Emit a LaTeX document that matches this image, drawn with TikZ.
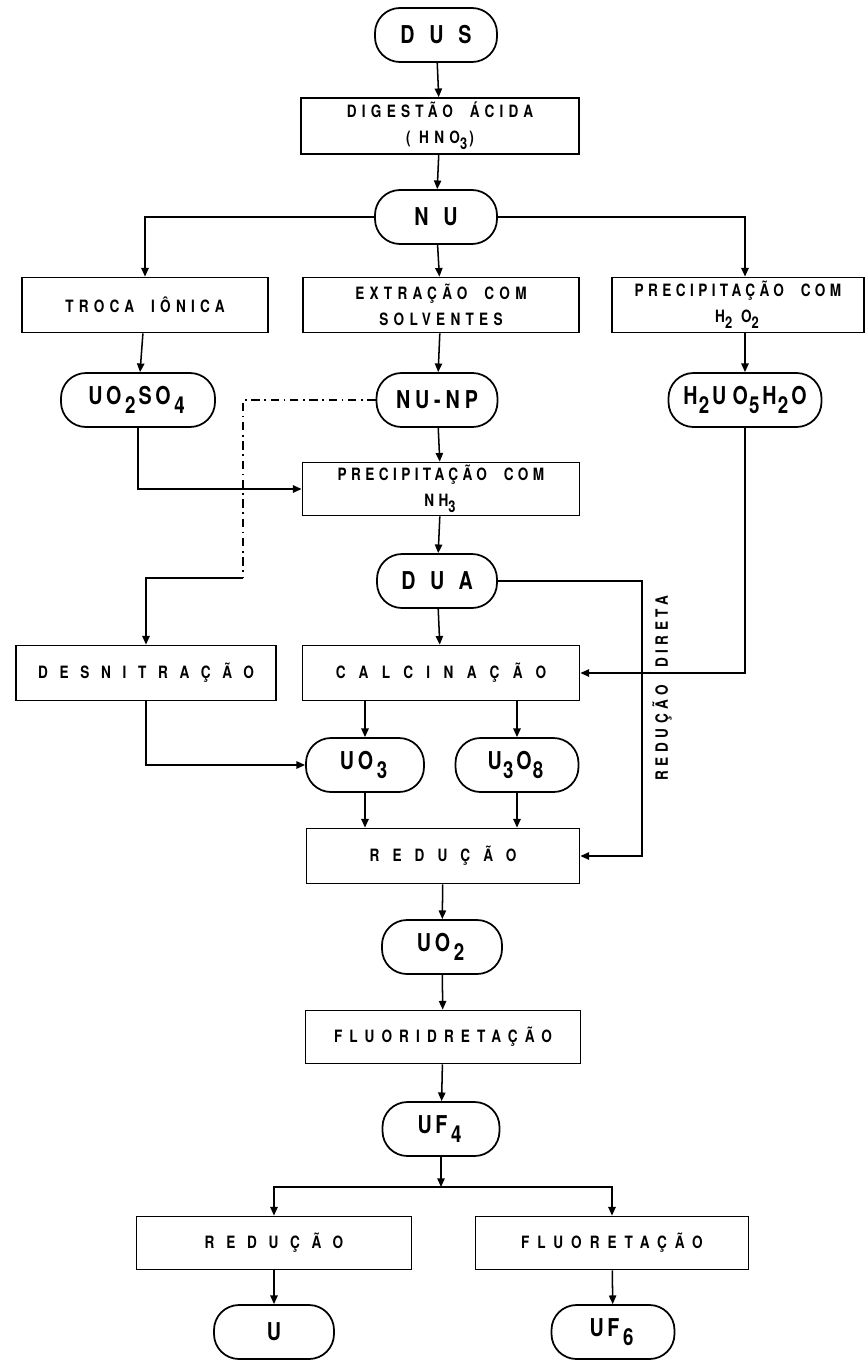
\documentclass[tikz,border=0pt]{standalone}
\usepackage{fontspec}
\setmainfont{TeX Gyre Heros}
\newfontfamily\flowfamily{TeX Gyre Heros}[FakeStretch=0.8]
\usepackage{tikz}
\usetikzlibrary{arrows.meta}
\newcommand{\boxfont}{\flowfamily\bfseries\fontsize{14.5}{22}\selectfont}
\newcommand{\termfont}{\flowfamily\bfseries\fontsize{21}{24}\selectfont}
\newcommand{\trk}[1]{\addfontfeature{LetterSpace=#1}}
\newcommand{\lo}[2][0.15em]{\kern#1\raisebox{-0.35em}{\scalebox{0.95}{#2}}\kern0.12em}
\newcommand{\gap}{\hspace{1em}}
\tikzset{
  proc/.style   ={draw, rectangle, minimum width=#1, minimum height=16.5mm,
                  inner sep=1pt, align=center, line width=1.5pt,
                  font=\boxfont\trk{31}},
  term/.style   ={draw, rectangle, rounded corners=7.5mm, minimum width=#1,
                  minimum height=16.2mm, inner sep=0pt, line width=1.5pt,
                  font=\termfont\trk{15}},
  flow/.style   ={-{Triangle[length=2.6mm,width=2.2mm]}, line width=1.3pt},
  altflow/.style={line width=1.3pt, dash pattern=on 7pt off 4pt on 1.5pt off 4pt},
  sidelbl/.style={font=\boxfont\trk{27}, rotate=90, inner sep=1pt},
}

\begin{document}
\begin{tikzpicture}[x=0.3mm, y=-0.3mm]
  \useasboundingbox (0,0) rectangle (867,1360);

  % main column
  \node[term=36.6mm, font=\termfont\trk{60}] (dus) at (436,35) {DUS};
  \node[proc=83.4mm, minimum height=16.8mm] (dig) at (440,126)
    {DIGESTÃO\gap ÁCIDA\\(\hspace{0.5em}HNO\lo[0pt]{3})};
  \node[term=36.6mm, font=\termfont\trk{60}] (nu) at (436,217) {NU};

  % three routes
  \node[proc=73.8mm] (troca) at (145,305) {TROCA\gap IÔNICA};
  \node[proc=82.8mm] (extr) at (441,305) {EXTRAÇÃO\gap COM\\SOLVENTES};
  \node[proc=75.6mm, font=\boxfont\trk{26}] (pph) at (738,305)
    {PRECIPITAÇÃO\gap COM\\H\lo[0pt]{2}\hspace{0.4em}O\lo[0pt]{2}};
  \node[term=46.2mm] (uso) at (138,400) {UO\lo{2}SO\lo{4}};
  \node[term=36.3mm, font=\termfont\trk{20}] (nunp) at (437,400) {NU-NP};
  \node[term=45.9mm, font=\termfont\trk{25}] (hper) at (745,400)
    {H\lo[0.05em]{2}UO\lo[0.05em]{5}H\lo[0.05em]{2}O};
  \node[proc=83.1mm, minimum height=15.9mm, font=\boxfont\trk{26}] (ppn) at (441,489)
    {PRECIPITAÇÃO\gap COM\\NH\lo[0pt]{3}};
  \node[term=36mm, font=\termfont\trk{60}] (dua) at (437,581) {DUA};

  % oxides
  \node[proc=78mm, font=\boxfont\trk{69}] (desn) at (146,673) {DESNITRAÇÃO};
  \node[proc=83.1mm, font=\boxfont\trk{79}] (calc) at (441,673) {CALCINAÇÃO};
  \node[term=35.4mm] (uo3) at (365,765) {UO\lo{3}};
  \node[term=36.9mm] (u3o8) at (517,765) {U\lo[0.05em]{3}O\lo[0.05em]{8}};
  \node[proc=81.9mm, font=\boxfont\trk{77}] (red) at (443,856) {REDUÇÃO};
  \node[term=36mm] (uo2) at (442,947) {UO\lo{2}};
  \node[proc=82.5mm, minimum height=15.9mm, font=\boxfont\trk{42}] (fhf) at (443,1037)
    {FLUORIDRETAÇÃO};
  \node[term=35.1mm] (uf4) at (441,1129) {UF\lo{4}};

  % end products
  \node[proc=82.5mm, minimum height=15.9mm, font=\boxfont\trk{69}] (redm) at (274,1243)
    {REDUÇÃO};
  \node[proc=81.9mm, minimum height=15.9mm, font=\boxfont\trk{47}] (fluo) at (612,1243)
    {FLUORETAÇÃO};
  \node[term=36mm] (umet) at (274,1332) {U};
  \node[term=36.9mm] (uf6) at (613,1332) {UF\lo{6}};

  \node[sidelbl] (dirlbl) at (662,688) {REDUÇÃO\gap DIRETA};

  \coordinate (kink) at (243,578);
  \coordinate (dirtop) at (642,581);
  \coordinate (split) at (441,1187);

  \draw[flow] (dus) -- (dig);
  \draw[flow] (dig) -- (nu);
  \draw[flow] (nu.west) -| (troca.north);
  \draw[flow] (nu) -- (extr);
  \draw[flow] (nu.east) -| (pph.north -| hper.north);
  \draw[flow] (troca) -- (uso);
  \draw[flow] (extr) -- (nunp);
  \draw[flow] (pph.south -| hper.north) -- (hper);
  \draw[flow] (uso.south) |- (ppn.west);
  \draw[flow] (nunp) -- (ppn);
  \draw[flow] (ppn) -- (dua);
  \draw[altflow] (nunp.west) -| (kink);
  \draw[flow] (kink) -| (desn.north);
  \draw[flow] (dua) -- (calc);
  \draw[flow] (dua.east) -- (dirtop) |- (red.east);
  \draw[flow] (hper.south) |- (calc.east);
  \draw[flow] (calc.south -| uo3.north) -- (uo3);
  \draw[flow] (calc.south -| u3o8.north) -- (u3o8);
  \draw[flow] (desn.south) |- (uo3.west);
  \draw[flow] (uo3.south) -- (uo3.south |- red.north);
  \draw[flow] (u3o8.south) -- (u3o8.south |- red.north);
  \draw[flow] (red) -- (uo2);
  \draw[flow] (uo2) -- (fhf);
  \draw[flow] (fhf) -- (uf4);
  \draw[flow] (uf4) -- (split);
  \draw[flow] (split) -| (redm.north);
  \draw[flow] (split) -| (fluo.north);
  \draw[flow] (redm) -- (umet);
  \draw[flow] (fluo) -- (uf6);
\end{tikzpicture}
\end{document}
